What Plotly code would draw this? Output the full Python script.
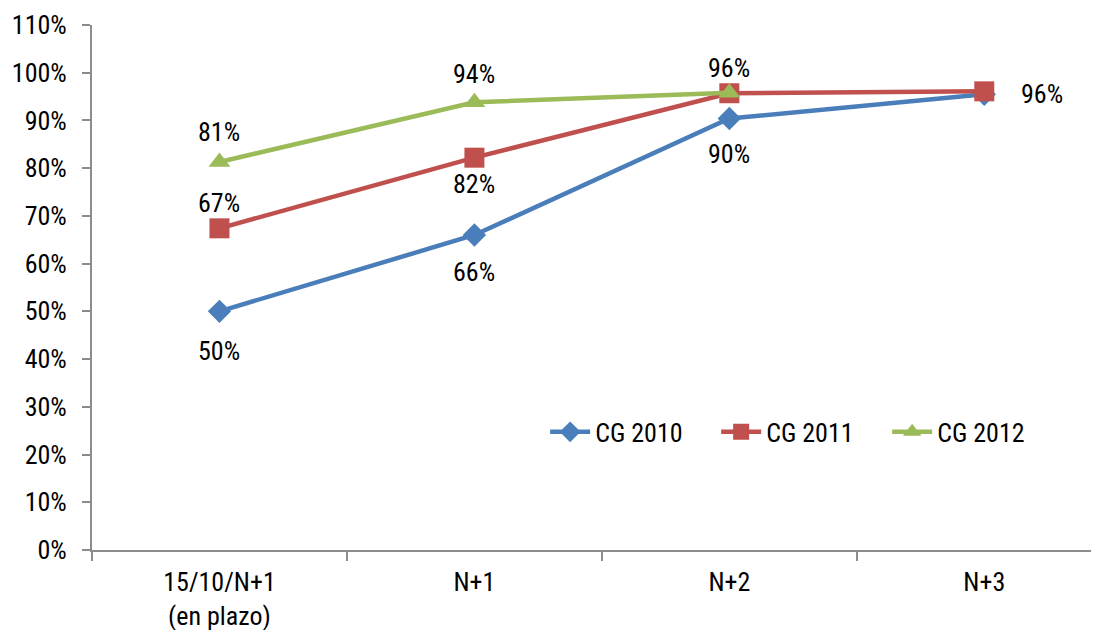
import plotly.graph_objects as go

categories = ["15/10/N+1<br>(en plazo)", "N+1", "N+2", "N+3"]
cg2010 = [50.0, 66.0, 90.4, 95.5]
cg2011 = [67.4, 82.2, 95.7, 96.1]
cg2012 = [81.3, 93.8, 95.8]
labels2010 = ["50%", "66%", "90%", ""]
labels2011 = ["67%", "82%", "", "96%"]
labels2012 = ["81%", "94%", "96%"]
yticks = list(range(0, 111, 10))

FONT = "Liberation Sans Narrow, Arial Narrow, Roboto Condensed, Liberation Sans, sans-serif"
FS = 26
BLUE, RED, GREEN = "#4a7ebb", "#c0504d", "#9bbb59"

fig = go.Figure()
fig.add_trace(go.Scatter(x=categories, y=cg2010, name="CG 2010", mode="lines+markers",
                         line=dict(color=BLUE, width=4.5),
                         marker=dict(symbol="diamond", size=18, color=BLUE)))
fig.add_trace(go.Scatter(x=categories, y=cg2011, name="CG 2011", mode="lines+markers",
                         line=dict(color=RED, width=4.5),
                         marker=dict(symbol="square", size=20, color=RED)))
fig.add_trace(go.Scatter(x=categories[:3], y=cg2012, name="CG 2012", mode="lines+markers",
                         line=dict(color=GREEN, width=4.5),
                         marker=dict(symbol="triangle-up", size=19, color=GREEN)))

# label offsets (style only)
off2010 = [(0, -40), (0, -37), (0, -35), (0, 0)]
off2011 = [(0, 25), (0, -26), (0, 0), (58, -3)]
off2012 = [(0, 30), (0, 28), (0, 25)]
for xs, ys, labs, offs in [(categories, cg2010, labels2010, off2010),
                           (categories, cg2011, labels2011, off2011),
                           (categories[:3], cg2012, labels2012, off2012)]:
    for xv, yv, lab, (dx, dy) in zip(xs, ys, labs, offs):
        if lab:
            fig.add_annotation(x=xv, y=yv, text=lab, showarrow=False,
                               xshift=dx, yshift=dy,
                               font=dict(family=FONT, size=FS, color="black"))

fig.update_layout(
    width=1091, height=622,
    margin=dict(l=84, r=0, t=17, b=80),
    paper_bgcolor="white", plot_bgcolor="white",
    font=dict(family=FONT, size=FS, color="black"),
    showlegend=True,
    legend=dict(orientation="h", x=0.45, y=0.225, xanchor="left", yanchor="middle",
                font=dict(family=FONT, size=FS, color="black"),
                bgcolor="rgba(0,0,0,0)", itemwidth=40, tracegroupgap=0,
                entrywidth=116, entrywidthmode="pixels"),
    xaxis=dict(type="category", range=[-0.5, 3.45], showgrid=False, automargin=False,
               showline=True, linecolor="#8c8c8c", linewidth=2,
               ticks="outside", tickson="boundaries", ticklen=9, tickcolor="#8c8c8c",
               tickwidth=1.5, ticklabelstandoff=8),
    yaxis=dict(range=[0, 110], tickvals=yticks, ticktext=[f"{v}%" for v in yticks],
               showgrid=False, zeroline=False, showline=True, linecolor="#8c8c8c",
               linewidth=2, ticks="outside", ticklen=8, tickcolor="#8c8c8c",
               tickwidth=1.5, ticklabelstandoff=10, automargin=False),
)

fig.write_html("out.html")
